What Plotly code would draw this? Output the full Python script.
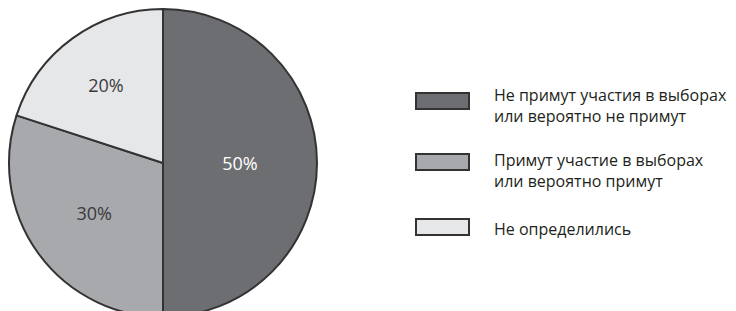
import plotly.graph_objects as go

labels = ["Не примут участия в выборах<br>или вероятно не примут",
          "Примут участие в выборах<br>или вероятно примут",
          "Не определились"]
values = [50, 30, 20]
text_labels = ["50%", "30%", "20%"]
colors = ["#6d6e71", "#a7a9ac", "#e6e7e8"]
text_colors = ["#ffffff", "#3a3a3c", "#3a3a3c"]

W, H = 736, 330

def px_x(x):
    return x / W

def px_y(y):
    return (H - y) / H

fig = go.Figure()
fig.add_trace(go.Pie(
    labels=labels,
    values=values,
    text=text_labels,
    textinfo="text",
    textposition="inside",
    insidetextorientation="horizontal",
    sort=False,
    direction="clockwise",
    rotation=0,
    marker=dict(colors=colors, line=dict(color="#333333", width=2)),
    textfont=dict(family="Open Sans", size=18, color=text_colors),
    domain=dict(x=[px_x(9), px_x(317)], y=[px_y(317), px_y(9)]),
    showlegend=False,
    hoverinfo="skip",
))

# legend swatches and texts
box_tops = [92, 153, 218]
text_ys = [105, 170, 229]
for lab, col, top, ty in zip(labels, colors, box_tops, text_ys):
    fig.add_shape(type="rect", xref="paper", yref="paper",
                  x0=px_x(416), x1=px_x(469), y0=px_y(top + 17), y1=px_y(top + 1),
                  fillcolor=col, line=dict(color="#333333", width=2))
    fig.add_annotation(xref="paper", yref="paper", x=px_x(492), y=px_y(ty),
                       text=lab, showarrow=False, xanchor="left", yanchor="middle",
                       align="left",
                       font=dict(family="Open Sans", size=16, color="#231f20"))

fig.update_layout(
    width=W, height=H,
    margin=dict(l=0, r=0, t=0, b=0),
    paper_bgcolor="#ffffff",
    plot_bgcolor="#ffffff",
)

fig.write_html("out.html",
               config={"displayModeBar": False},
               post_script="document.body.style.margin='0';document.body.style.overflow='hidden';document.documentElement.style.overflow='hidden';")
